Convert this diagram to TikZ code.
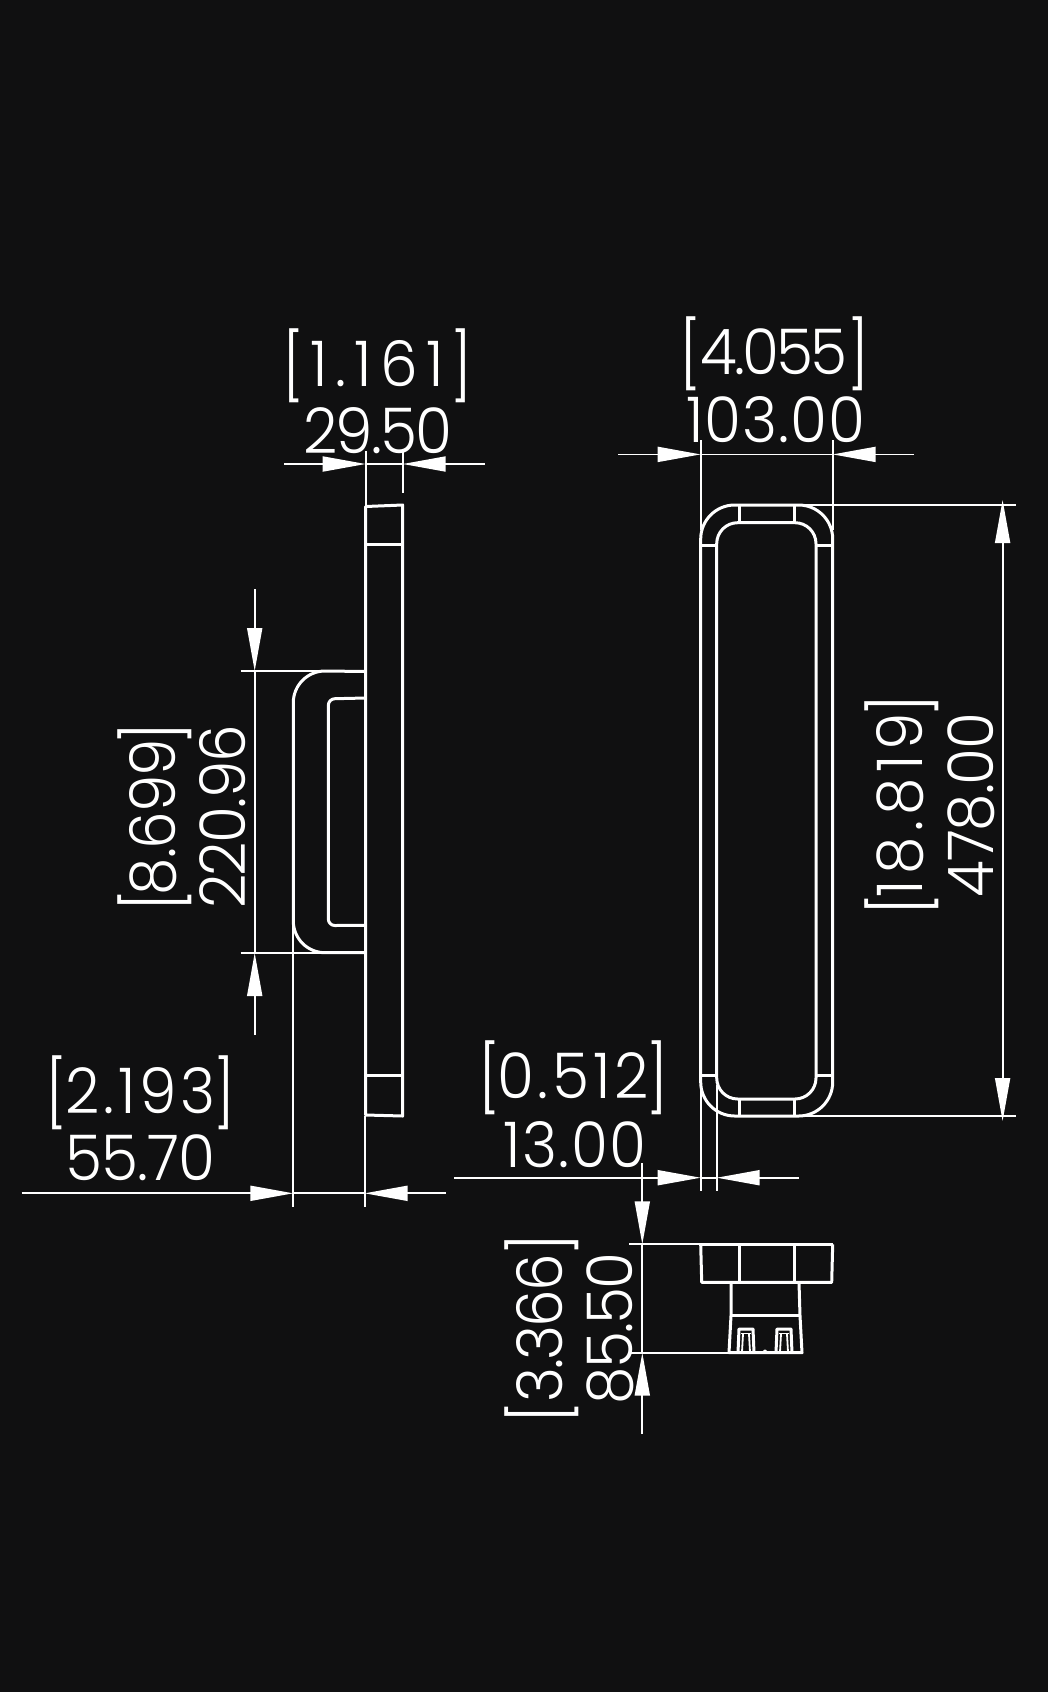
\documentclass[tikz,border=0pt]{standalone}
\usepackage{fontspec}
\usetikzlibrary{arrows.meta}
\newfontfamily\dimfont[UprightFont=* Light,FakeStretch=0.95]{Poppins}
\definecolor{sheet}{HTML}{101011}
\tikzset{
  part/.style={draw=white,line width=3pt,line join=round},
  extline/.style={draw=white,line width=1.8pt},
  dimline/.style={draw=white,line width=1.8pt,-{Triangle[length=43pt,width=15pt]}},
  dimlabel/.style={text=white,inner sep=0pt,font=\dimfont\fontsize{63}{63}\selectfont,
    text height=45pt,text depth=0pt}
}
\newcommand{\brk}[1]{\raisebox{-4pt}{\scalebox{1}[1.05]{#1}}}
% digits, spread by a percentage of the font size
\newcommand{\spread}[2]{{\addfontfeature{LetterSpace=#1}#2}}
% value in inches: width of the digits, spread, value
\newcommand{\inch}[3]{\brk{[}\makebox[#1pt][c]{\spread{#2}{#3}}\brk{]}}
% horizontal dimension: y, left end, left tip, right tip, right end
\newcommand{\hdim}[5]{
  \draw[dimline] (#2,#1) -- (#3,#1);
  \draw[dimline] (#5,#1) -- (#4,#1);
  \draw[extline] (#3,#1) -- (#4,#1);
}
% vertical dimension: x, top end, top tip, bottom tip, bottom end
\newcommand{\vdim}[5]{
  \draw[dimline] (#1,#2) -- (#1,#3);
  \draw[dimline] (#1,#5) -- (#1,#4);
  \draw[extline] (#1,#3) -- (#1,#4);
}
\begin{document}
\begin{tikzpicture}[x=1pt,y=-1pt]
\useasboundingbox[fill=sheet] (0,0) rectangle (1048,1692);

% side view
\draw[part] (365.7,506.5) -- (402.7,505) -- (402.7,1116) -- (365.7,1115) -- cycle;
\draw[part] (365.7,544) -- (402.7,544);
\draw[part] (365.7,1075) -- (402.7,1075);
\draw[part] (365.7,671.5) -- (325,671) arc (270:180:31.7) -- (293.3,921) arc (180:90:31.7) -- (365.7,952.7);
\draw[part] (365.7,698) -- (335,698.7) arc (270:180:6.7) -- (328.3,919) arc (180:90:6.5) -- (365.7,925.3);

% side view, extension lines
\draw[extline] (365.7,451) -- (365.7,506);
\draw[extline] (402.7,451) -- (402.7,493);
\draw[extline] (240.7,671) -- (325,671);
\draw[extline] (240.7,953) -- (322,953);
\draw[extline] (293.3,925) -- (293.3,1206.7);
\draw[extline] (364.6,1116) -- (364.6,1206.7);
\hdim{464}{284}{365.7}{402.7}{484.6}
\vdim{254.7}{589}{671}{953}{1035}
\hdim{1193.3}{21.6}{293.3}{364.6}{446}

% front view
\draw[part,rounded corners=34pt] (700.7,505) rectangle (832.7,1116);
\draw[part,rounded corners=21pt] (716.7,522.7) rectangle (816,1099);
\foreach \tx in {739,794.3}{
    \draw[part] (\tx,505) -- (\tx,522.7);
    \draw[part] (\tx,1099) -- (\tx,1116);
}
\foreach \ty in {545,1075}{
    \draw[part] (700.7,\ty) -- (716.7,\ty);
    \draw[part] (816,\ty) -- (832.7,\ty);
}

% front view, extension lines
\draw[extline] (700.7,440) -- (700.7,530);
\draw[extline] (832.7,440) -- (832.7,530);
\draw[extline] (806,505) -- (1016,505);
\draw[extline] (806,1116) -- (1016,1116);
\draw[extline] (700.7,1088) -- (700.7,1191);
\draw[extline] (716.7,1085) -- (716.7,1191);
\hdim{454.4}{618}{700.7}{832.7}{914}
\draw[dimline] (1002.6,810) -- (1002.6,500);
\draw[dimline] (1002.6,810) -- (1002.6,1121);
\hdim{1177.7}{454}{700.7}{716.7}{799}

% end view
\draw[part,line width=3.6pt] (700.7,1244.3) -- (832.7,1244.3);
\draw[part] (700.7,1244.3) -- (701.7,1282.3) -- (831.7,1282.3) -- (832.7,1244.3);
\draw[part] (739.3,1244.3) -- (739.3,1282.3);
\draw[part] (794,1244.3) -- (794,1282.3);
\draw[part] (731,1282.3) -- (731,1315.7) -- (729,1352.7) -- (802,1352.7) -- (800,1315.7) -- (799,1282.3);
\draw[part] (731,1315.7) -- (800,1315.7);
\foreach \cx in {746,784}{
    \draw[part] (\cx-8,1352.7) -- (\cx-7,1329) -- (\cx+7,1329) -- (\cx+8,1352.7);
    \draw[extline] (\cx-5,1333.5) -- (\cx+5,1333.5);
    \draw[extline] (\cx-3,1334) -- (\cx-4,1352);
    \draw[extline] (\cx+3,1334) -- (\cx+4,1352);
}
\fill[white] (765,1351.5) circle (2pt);

% end view, extension lines
\draw[extline] (629.3,1244.3) -- (701,1244.3);
\draw[extline] (629.3,1352.7) -- (729,1352.7);
\vdim{642.3}{1163}{1244.3}{1352.7}{1434}

% labels
\node[dimlabel] (sideinch) at (377,364) {\inch{146}{13}{1.161}};
\node[dimlabel] (sidemm) at (378,430.6) {\spread{-3}{29.50}};
\node[dimlabel] (frontinch) at (774,352) {\inch{146}{-4.3}{4.055}};
\node[dimlabel] (frontmm) at (776,420) {\spread{1.7}{103.00}};
\node[dimlabel] (offsetinch) at (140.7,1090.7) {\inch{146}{6}{2.193}};
\node[dimlabel] (offsetmm) at (140.7,1157.7) {\spread{-1.3}{55.70}};
\node[dimlabel] (wallinch) at (573,1076) {\inch{146}{6}{0.512}};
\node[dimlabel] (wallmm) at (575,1145) {\spread{2.6}{13.00}};
\node[dimlabel,rotate=90] (handleinch) at (153,817) {\inch{146}{-1.7}{8.699}};
\node[dimlabel,rotate=90] (handlemm) at (223,817) {\spread{-2.4}{220.96}};
\node[dimlabel,rotate=90] (heightinch) at (900,805) {\inch{178}{8.5}{18.819}};
\node[dimlabel,rotate=90] (heightmm) at (971,805) {\spread{-2}{478.00}};
\node[dimlabel,rotate=90] (depthinch) at (540,1328.6) {\inch{146}{-3}{3.366}};
\node[dimlabel,rotate=90] (depthmm) at (610,1328.6) {\spread{-3}{85.50}};
\end{tikzpicture}
\end{document}
